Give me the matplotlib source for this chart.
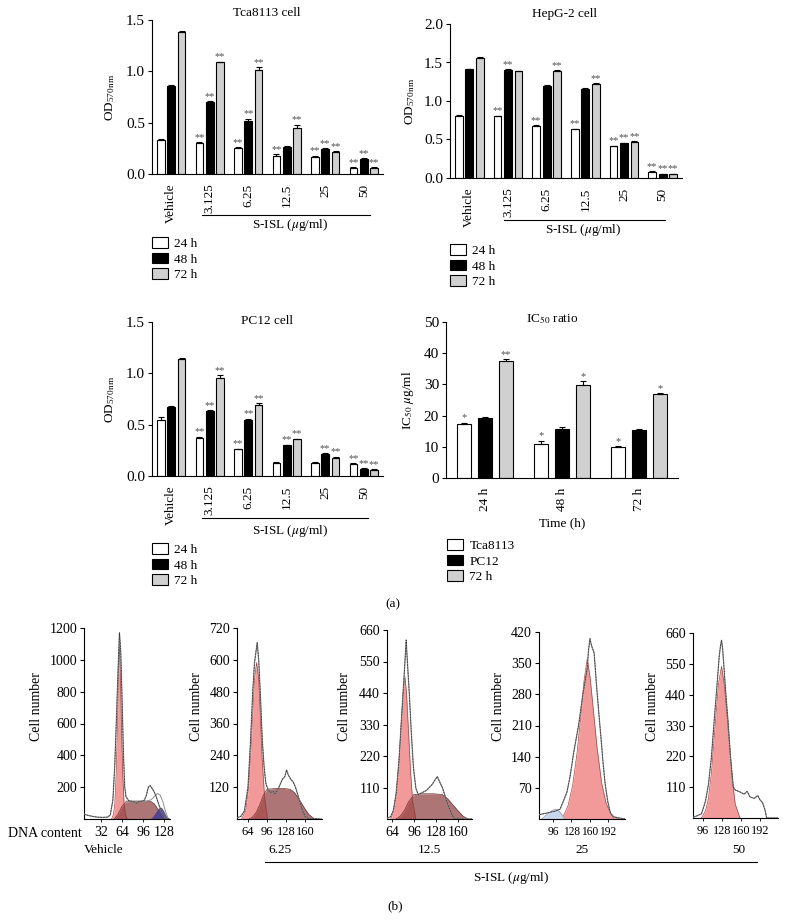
import numpy as np
import matplotlib.pyplot as plt

plt.rcParams['font.family'] = ['Liberation Serif', 'DejaVu Serif']
plt.rcParams['mathtext.fontset'] = 'stix'
plt.rcParams['axes.linewidth'] = 0.8

W, H = 787, 922   # figure size in pixels

# ---------------- data, panel (a) ----------------
groups = ['Vehicle', '3.125', '6.25', '12.5', '25', '50']
hours = ['24 h', '48 h', '72 h']

tca_24 = [0.33, 0.30, 0.25, 0.18, 0.17, 0.06]
tca_48 = [0.86, 0.70, 0.52, 0.26, 0.24, 0.15]
tca_72 = [1.38, 1.09, 1.01, 0.45, 0.21, 0.06]
tca_err = [[0.01, 0.01, 0.01, 0.01, 0.01, 0.005],
           [0.01, 0.01, 0.02, 0.01, 0.01, 0.005],
           [0.01, 0.005, 0.03, 0.03, 0.01, 0.005]]
tca_sig = [['', '**', '**', '**', '**', '**'],
           ['', '**', '**', '', '**', '**'],
           ['', '**', '**', '**', '**', '**']]

hep_24 = [0.81, 0.80, 0.68, 0.63, 0.41, 0.08]
hep_48 = [1.41, 1.40, 1.20, 1.16, 0.45, 0.05]
hep_72 = [1.56, 1.39, 1.39, 1.22, 0.47, 0.05]
hep_err = [[0.01, 0.01, 0.005, 0.01, 0.01, 0.005],
           [0.01, 0.01, 0.005, 0.01, 0.005, 0.005],
           [0.01, 0.005, 0.01, 0.01, 0.01, 0.005]]
hep_sig = [['', '**', '**', '**', '**', '**'],
           ['', '**', '', '', '**', '**'],
           ['', '', '**', '**', '**', '**']]

pc_24 = [0.55, 0.37, 0.26, 0.13, 0.13, 0.12]
pc_48 = [0.67, 0.63, 0.55, 0.30, 0.21, 0.07]
pc_72 = [1.14, 0.95, 0.69, 0.36, 0.18, 0.06]
pc_err = [[0.02, 0.01, 0.005, 0.005, 0.005, 0.005],
          [0.01, 0.01, 0.01, 0.005, 0.01, 0.005],
          [0.01, 0.03, 0.02, 0.005, 0.005, 0.005]]
pc_sig = [['', '**', '**', '', '', '**'],
          ['', '**', '**', '**', '**', '**'],
          ['', '**', '**', '**', '**', '**']]

ic_groups = ['24 h', '48 h', '72 h']
ic_labels = ['Tca8113', 'PC12', '72 h']
ic_tca = [17.2, 11.0, 9.9]
ic_pc = [19.3, 15.6, 15.3]
ic_72 = [37.5, 29.7, 26.9]
ic_err = [[0.5, 1.0, 0.2], [0.3, 0.6, 0.3], [0.6, 1.3, 0.2]]
ic_sig = [['*', '*', '*'], ['', '', ''], ['**', '*', '*']]

# ---------------- data, panel (b) ----------------
h1_raw_x = [6, 15, 25, 35, 42, 46, 50, 53, 56, 58, 60, 62, 64, 66, 68, 70, 74, 78, 82, 86, 90,
            94, 98, 101, 104, 107, 110, 113, 116, 120, 124, 128, 131, 137]
h1_raw_y = [30, 20, 12, 10, 12, 25, 120, 350, 700, 950, 1170, 1050, 750, 420, 200, 140, 115, 112,
            108, 100, 110, 112, 118, 150, 200, 210, 190, 170, 140, 90, 45, 15, 3, 0]
h1_g1_x = [48, 51, 53, 55, 57, 58.5, 60, 61.5, 63, 65, 67, 69, 72]
h1_g1_y = [0, 30, 100, 280, 600, 900, 1115, 900, 600, 280, 100, 30, 0]
h1_s_x = [52, 58, 64, 70, 80, 90, 100, 108, 113, 118, 123, 128, 131]
h1_s_y = [0, 30, 80, 108, 112, 112, 112, 110, 95, 65, 35, 10, 0]
h1_g2_x = [106, 110, 114, 118, 121, 124, 127, 131, 135]
h1_g2_y = [0, 12, 35, 60, 75, 72, 55, 20, 0]
h1_sum_x = [70, 100, 108, 114, 118, 122, 126, 130, 134]
h1_sum_y = [112, 112, 120, 145, 160, 150, 110, 50, 5]

h2_raw_x = [46, 52, 58, 64, 68, 72, 75, 78, 79.5, 82, 85, 88, 91, 94, 98, 102, 106, 110, 114,
            118, 122, 126, 129, 132, 136, 140, 144, 148, 152, 156, 160, 164, 188]
h2_raw_y = [5, 10, 30, 120, 280, 480, 590, 640, 665, 600, 460, 300, 200, 135, 110, 100, 105, 95,
            110, 130, 150, 160, 185, 165, 150, 140, 120, 90, 60, 30, 10, 3, 0]
h2_g1_x = [53, 60, 65, 69, 72, 75, 78.5, 82, 85, 88, 92, 97]
h2_g1_y = [0, 30, 120, 260, 400, 530, 590, 530, 380, 220, 80, 0]
h2_s_x = [66, 72, 78, 84, 90, 96, 110, 125, 135, 142, 150, 158, 166, 176]
h2_s_y = [0, 8, 25, 55, 90, 112, 115, 115, 112, 100, 75, 45, 18, 0]

h3_raw_x = [57, 62, 66, 70, 74, 78, 81, 83, 84.5, 86, 89, 92, 95, 98.6, 102, 106, 110, 114, 118,
            122, 126, 129.7, 133, 137, 141, 145, 150, 154, 160, 180]
h3_raw_y = [3, 8, 30, 90, 200, 360, 480, 560, 625, 560, 440, 300, 180, 107, 85, 90, 95, 100, 110,
            120, 135, 148, 130, 110, 80, 50, 20, 3, 0, 0]
h3_g1_x = [62, 66, 70, 74, 77, 80, 82.7, 85, 88, 91, 94, 98.6]
h3_g1_y = [0, 25, 90, 200, 320, 440, 497, 440, 300, 160, 60, 0]
h3_s_x = [70, 76, 82, 88, 96, 110, 125, 137, 145, 152, 160, 167, 174]
h3_s_y = [0, 10, 30, 60, 86, 88, 88, 85, 70, 50, 28, 10, 0]

h4_raw_x = [72, 80, 90, 100, 108, 113.5, 120, 125.5, 132, 140.6, 148, 155.7, 158, 160.5, 163,
            167.8, 172, 176.8, 180, 182.8, 187, 191.8, 196, 200.9, 222]
h4_raw_y = [10, 12, 15, 18, 22, 39, 60, 95, 150, 211, 280, 338, 380, 405, 390, 373, 300, 226, 180,
            136, 80, 39, 15, 5, 0]
h4_g1_x = [108, 115, 122, 130, 138, 145, 150, 155.7, 161, 166, 173, 181, 189, 197, 205, 212]
h4_g1_y = [0, 10, 30, 75, 150, 240, 310, 360, 315, 250, 160, 80, 35, 12, 3, 0]
h4_sub_x = [76, 85, 95, 103, 110, 116]
h4_sub_y = [0, 10, 20, 22, 12, 0]

h5_raw_x = [80, 86, 93.3, 100, 105, 110, 114, 118.7, 123, 125, 127, 129, 131, 134, 138.3, 142,
            146.8, 150, 158, 165, 170, 175, 182, 188, 192, 196, 200, 203, 222]
h5_raw_y = [3, 8, 15, 60, 120, 217, 330, 455, 574, 610, 634, 600, 540, 450, 336, 220, 110, 100,
            93, 85, 95, 75, 70, 80, 64, 55, 30, 0, 0]
h5_g1_x = [93, 100, 105, 110, 114, 118, 122, 127, 132, 136, 140, 145, 150, 158]
h5_g1_y = [0, 25, 70, 160, 270, 380, 480, 541, 470, 370, 270, 140, 50, 0]

doses_b = ['Vehicle', '6.25', '12.5', '25', '50']


def rect(l, t, r, b):
    # pixel box -> figure fraction
    return [l / W, 1 - b / H, (r - l) / W, (b - t) / H]


fig = plt.figure(figsize=(W / 100, H / 100), dpi=100)

fs = 9.5
face = ['white', 'black', '#d0d0d0']


def bar_panel(box, series, errs, sigs, labels, width, offs, ylim, yticks, yfmt):
    ax = fig.add_axes(box)
    xs = np.arange(len(labels))
    hs = []
    for k, vals in enumerate(series):
        b = ax.bar(xs + offs[k], vals, width, color=face[k], edgecolor='black', lw=0.8,
                   yerr=[np.zeros(len(vals)), errs[k]], capsize=2.0,
                   error_kw=dict(elinewidth=0.8, capthick=0.8), zorder=2)
        hs.append(b)
        for i, v in enumerate(vals):
            if sigs[k][i]:
                ax.annotate(sigs[k][i], (xs[i] + offs[k], v + errs[k][i]), xytext=(0, 0.3),
                            textcoords='offset points', ha='center', va='bottom',
                            fontsize=7.5, color='#505050')
    ax.set_xlim(-0.5, len(labels) - 0.5)
    ax.set_ylim(*ylim)
    ax.set_yticks(yticks)
    ax.set_yticklabels([yfmt % t for t in yticks])
    ax.set_xticks(xs)
    ax.set_xticklabels(labels, rotation=90, va='top')
    ax.spines['top'].set_visible(False)
    ax.spines['right'].set_visible(False)
    ax.tick_params(axis='x', length=0, pad=7, labelsize=fs)
    ax.tick_params(axis='y', length=3, width=0.8, pad=2, labelsize=11)
    return ax, hs


def dose_note(ax, x0, x1, yline, xlab, ylab):
    tr = ax.get_xaxis_transform()
    ax.plot([x0, x1], [yline, yline], color='black', lw=0.8, transform=tr, clip_on=False)
    ax.text(xlab, ylab, r'S-ISL ($\mu$g/ml)', transform=tr, ha='center', va='center', fontsize=fs)


def legend_at(ax, hs, labels, lx, ty):
    ax.legend(hs, labels, loc='upper left', bbox_to_anchor=(lx / W, 1 - ty / H),
              bbox_transform=fig.transFigure, frameon=False, fontsize=fs,
              handlelength=1.2, handleheight=0.85, labelspacing=0.22, handletextpad=0.5,
              borderpad=0, borderaxespad=0)


offs3 = [-0.27, 0.0, 0.27]
ylab_od = r'OD$_{\mathregular{570\,nm}}$'

# Tca8113
ax1, h1 = bar_panel(rect(152, 20, 383, 174), [tca_24, tca_48, tca_72], tca_err, tca_sig,
                    groups, 0.2, offs3, (0, 1.5), [0, 0.5, 1.0, 1.5], '%.1f')
dose_note(ax1, 0.8, 5.15, -0.266, 3.1, -0.33)
legend_at(ax1, h1, hours, 152, 237)
fig.text(267 / W, 1 - 13 / H, 'Tca8113 cell', ha='center', va='center', fontsize=fs)
fig.text(110 / W, 1 - 97 / H, ylab_od, rotation=90, ha='center', va='center', fontsize=fs)

# HepG-2
ax2, h2 = bar_panel(rect(450, 24, 682, 178), [hep_24, hep_48, hep_72], hep_err, hep_sig,
                    groups, 0.2, offs3, (0, 2.0), [0, 0.5, 1.0, 1.5, 2.0], '%.1f')
dose_note(ax2, 0.9, 5.05, -0.273, 2.95, -0.338)
legend_at(ax2, h2, hours, 450, 244)
fig.text(565 / W, 1 - 14 / H, 'HepG-2 cell', ha='center', va='center', fontsize=fs)
fig.text(410 / W, 1 - 101 / H, ylab_od, rotation=90, ha='center', va='center', fontsize=fs)

# PC12
ax3, h3 = bar_panel(rect(152, 322, 383, 476), [pc_24, pc_48, pc_72], pc_err, pc_sig,
                    groups, 0.2, offs3, (0, 1.5), [0, 0.5, 1.0, 1.5], '%.1f')
dose_note(ax3, 0.8, 5.12, -0.273, 3.1, -0.357)
legend_at(ax3, h3, hours, 152, 543)
fig.text(267 / W, 1 - 321 / H, 'PC12 cell', ha='center', va='center', fontsize=fs)
fig.text(110 / W, 1 - 399 / H, ylab_od, rotation=90, ha='center', va='center', fontsize=fs)

# IC50
ax4, h4 = bar_panel(rect(446, 322, 678, 478), [ic_tca, ic_pc, ic_72], ic_err, ic_sig,
                    ic_groups, 0.18, offs3, (0, 50), [0, 10, 20, 30, 40, 50], '%d')
ax4.text(0.5, -0.29, 'Time (h)', transform=ax4.transAxes, ha='center', va='center', fontsize=fs)
legend_at(ax4, h4, ic_labels, 447, 539)
fig.text(552 / W, 1 - 319 / H, r'IC$_{50}$ ratio', ha='center', va='center', fontsize=fs)
fig.text(408 / W, 1 - 400 / H, r'IC$_{50}$ $\mu$g/ml', rotation=90, ha='center', va='center',
         fontsize=fs)

fig.text(393 / W, 1 - 604 / H, '(a)', ha='center', va='center', fontsize=fs)

# ---------------- panel (b) histograms ----------------
red = '#f29a9a'
brown = '#8b3a3a'
blue = '#4a3f8f'


def hist_panel(box, xlim, ymax, ystep, xticks, raw, g1, s=None, g2=None, sub=None, sumline=None,
               xfs=10):
    ax = fig.add_axes(box)
    ax.fill_between(g1[0], g1[1], color=red, lw=0, zorder=1)
    ax.plot(g1[0], g1[1], color='#a04848', lw=0.5, zorder=2)
    if s is not None:
        ax.fill_between(s[0], s[1], color=brown, alpha=0.7, lw=0, zorder=2)
        ax.plot(s[0], s[1], color='#6a2a2a', lw=0.5, zorder=2)
    if g2 is not None:
        ax.fill_between(g2[0], g2[1], color=blue, alpha=0.9, lw=0, zorder=2)
    if sub is not None:
        ax.fill_between(sub[0], sub[1], color='#c8d6ee', lw=0, zorder=2)
        ax.plot(sub[0], sub[1], color='#8090b0', lw=0.5, zorder=2)
    if sumline is not None:
        ax.plot(sumline[0], sumline[1], color='#909090', lw=0.7, zorder=3)
    ax.plot(raw[0], raw[1], color='#8a8a8a', lw=0.9, zorder=3)
    ax.plot(raw[0], raw[1], color='#303030', lw=0.5, dashes=(2.5, 1.5), zorder=4)
    ax.set_xlim(*xlim)
    ax.set_ylim(0, ymax)
    yt = np.arange(ystep, ymax + 1, ystep)
    ax.set_yticks(yt)
    ax.set_xticks(xticks)
    ax.spines['top'].set_visible(False)
    ax.spines['right'].set_visible(False)
    ax.tick_params(axis='y', length=3, width=0.8, pad=2, labelsize=10)
    ax.tick_params(axis='x', length=2, width=0.6, pad=3, labelsize=xfs)
    return ax


hist_panel(rect(84, 628, 170, 819), (6, 137), 1200, 200, [32, 64, 96, 128],
           (h1_raw_x, h1_raw_y), (h1_g1_x, h1_g1_y), (h1_s_x, h1_s_y), (h1_g2_x, h1_g2_y),
           sumline=(h1_sum_x, h1_sum_y))
hist_panel(rect(237, 628, 322, 819), (45.5, 188.6), 720, 120, [64, 96, 128, 160],
           (h2_raw_x, h2_raw_y), (h2_g1_x, h2_g1_y), (h2_s_x, h2_s_y), xfs=9)
hist_panel(rect(387, 630, 472, 819), (56.7, 180), 660, 110, [64, 96, 128, 160],
           (h3_raw_x, h3_raw_y), (h3_g1_x, h3_g1_y), (h3_s_x, h3_s_y))
hist_panel(rect(539, 632, 625, 819), (71, 222), 420, 70, [96, 128, 160, 192],
           (h4_raw_x, h4_raw_y), (h4_g1_x, h4_g1_y), sub=(h4_sub_x, h4_sub_y), xfs=8.3)
hist_panel(rect(693, 633, 778, 818), (79, 222), 660, 110, [96, 128, 160, 192],
           (h5_raw_x, h5_raw_y), (h5_g1_x, h5_g1_y), xfs=8.8)

for lx in [37, 197, 345, 498, 653]:
    fig.text(lx / W, 1 - 707 / H, 'Cell number', rotation=90, ha='center', va='center',
             fontsize=10)

fig.text(8 / W, 1 - 833 / H, 'DNA content', ha='left', va='center', fontsize=10)
for lbl, px in zip(doses_b, [104, 280, 429, 582, 739]):
    fig.text(px / W, 1 - 850 / H, lbl, ha='center', va='center', fontsize=fs)

fig.add_artist(plt.Line2D([265 / W, 757 / W], [1 - 862 / H, 1 - 862 / H], color='black', lw=0.8))
fig.text(511 / W, 1 - 878 / H, r'S-ISL ($\mu$g/ml)', ha='center', va='center', fontsize=fs)
fig.text(395 / W, 1 - 906 / H, '(b)', ha='center', va='center', fontsize=fs)

fig.savefig('out.png', dpi=100)
plt.close(fig)
